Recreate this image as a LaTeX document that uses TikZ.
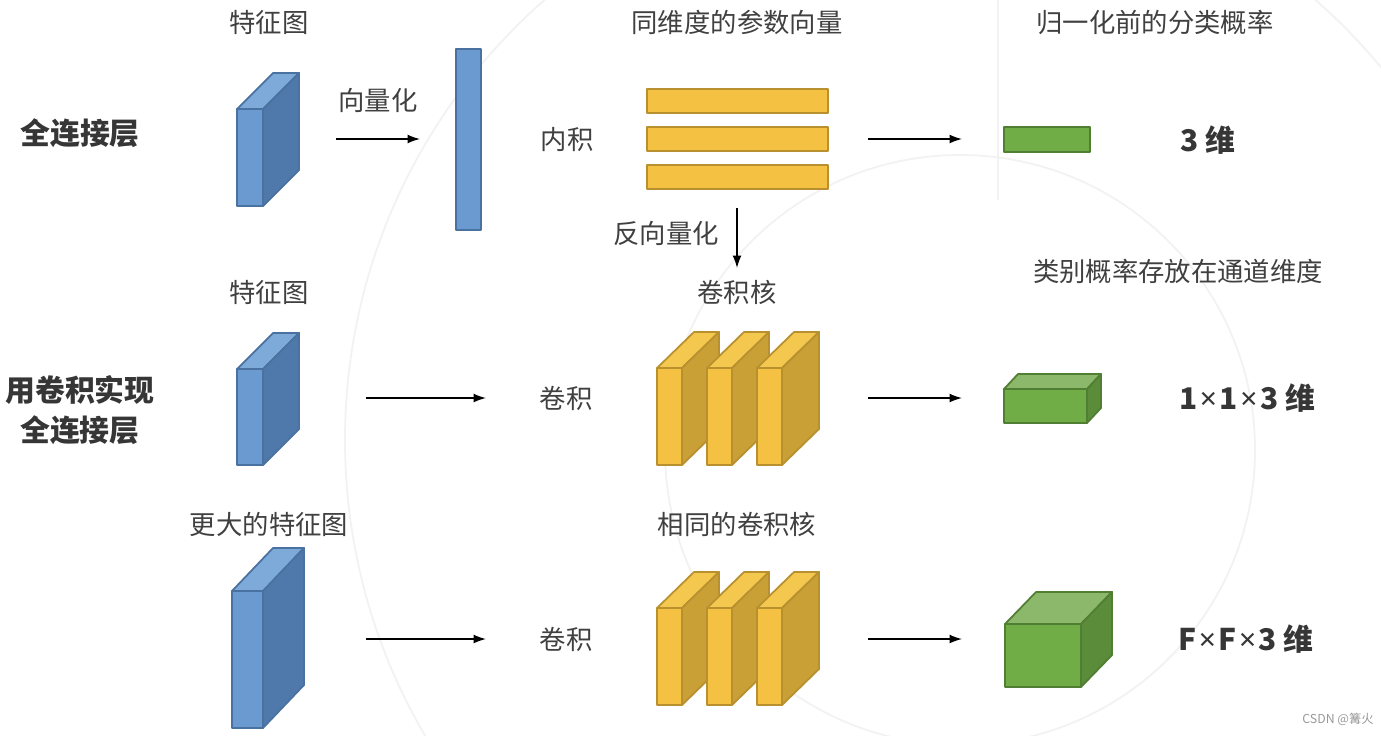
\documentclass[tikz,border=0pt]{standalone}
\usepackage{xcolor}
\usepackage{fontspec}
\setmainfont{Noto Sans CJK SC}
\newfontfamily\latin{Noto Sans}
\usepackage{tikz}
\usetikzlibrary{arrows.meta}

\definecolor{blueF}{HTML}{6A9AD0}
\definecolor{blueS}{HTML}{5079AB}
\definecolor{blueT}{HTML}{7EAADA}
\definecolor{blueD}{HTML}{4A72A0}
\definecolor{yelF}{HTML}{F5C142}
\definecolor{yelS}{HTML}{C9A035}
\definecolor{yelT}{HTML}{F4C84F}
\definecolor{yelD}{HTML}{B89030}
\definecolor{grnF}{HTML}{70AD47}
\definecolor{grnS}{HTML}{5A8C3A}
\definecolor{grnT}{HTML}{8CB86B}
\definecolor{grnD}{HTML}{507E32}
\definecolor{txt}{HTML}{404040}

% quader: x, y (front top left), w, h, dx, dy, colour prefix
\newcommand{\quader}[7]{%
  \filldraw[fill=#7T, draw=#7D] (#1,#2) -- ++(#5,-#6) -- ++(#3,0) -- ++(-#5,#6) -- cycle;
  \filldraw[fill=#7S, draw=#7D] (#1,#2) ++(#3,0) -- ++(#5,-#6) -- ++(0,#4) -- ++(-#5,#6) -- cycle;
  \filldraw[fill=#7F, draw=#7D] (#1,#2) rectangle ++(#3,#4);
}
\newcommand{\mal}{\kern1.5pt{\latin\bfseries ×}\kern1.5pt}

\begin{document}
\begin{tikzpicture}[x=0.02cm, y=-0.02cm, line join=round,
    lbl/.style={text=txt, font=\fontsize{15}{18}\selectfont},
    big/.style={text=txt!85!black, font=\fontsize{17}{21}\selectfont\bfseries, align=center},
    pfeil/.style={-{Latex[length=7pt, width=5pt]}, line width=0.8pt},
    shp/.style={line width=1pt}]
    \useasboundingbox[fill=white] (0,0) rectangle (1381,735);

    % Hintergrund
    \draw[gray!10, line width=1pt] (930,440) circle (585);
    \draw[gray!10, line width=1pt] (960,450) circle (295);
    \draw[gray!10, line width=1pt] (998,0) -- (998,200);

    % Titel
    \node[lbl] (t1) at (269,22) {特征图};
    \node[lbl] (t2) at (737,22) {同维度的参数向量};
    \node[lbl] (t3) at (1155,22) {归一化前的分类概率};

    % Zeile 1
    \node[big] (r1) at (80,133) {全连接层};
    \begin{scope}[shp]
        \quader{237}{109}{26}{97}{36}{36}{blue}
        \filldraw[fill=blueF, draw=blueD] (456,49) rectangle (481,230);
        \foreach \y in {89,127,165}
            {\filldraw[fill=yelF, draw=yelD] (647,\y) rectangle (828,\y+24);}
        \filldraw[fill=grnF, draw=grnD] (1004,127) rectangle (1090,152);
    \end{scope}
    \node[lbl] (vq) at (378,100) {向量化};
    \node[lbl] (nj) at (567,140) {内积};
    \node[big] (d1) at (1208,140) {3 维};
    \coordinate (a1) at (336,139);
    \coordinate (b1) at (420,139);
    \coordinate (c1) at (868,139);
    \coordinate (e1) at (962,139);
    \draw[pfeil] (a1) -- (b1);
    \draw[pfeil] (c1) -- (e1);

    % Rueckweg
    \coordinate (u1) at (737,208);
    \coordinate (u2) at (737,268);
    \draw[pfeil] (u1) -- (u2);
    \node[lbl] (fx) at (666,233) {反向量化};

    % Zeile 2
    \node[lbl] (t4) at (269,292) {特征图};
    \node[lbl] (t5) at (737,292) {卷积核};
    \node[lbl] (t6) at (1178,271) {类别概率存放在通道维度};
    \node[big] (r2) at (80,410) {用卷积实现\\[2pt]全连接层};
    \begin{scope}[shp]
        \quader{237}{369}{26}{96}{36}{36}{blue}
        \foreach \x in {657,707,757}
            {\quader{\x}{368}{25}{97}{37}{36}{yel}}
        \quader{1004}{389}{83}{34}{14}{15}{grn}
    \end{scope}
    \node[lbl] (jj1) at (566,398) {卷积};
    \node[big] (d2) at (1247,398) {1\mal1\mal3 维};
    \coordinate (a2) at (366,398);
    \coordinate (b2) at (486,398);
    \coordinate (c2) at (868,398);
    \coordinate (e2) at (962,398);
    \draw[pfeil] (a2) -- (b2);
    \draw[pfeil] (c2) -- (e2);

    % Zeile 3
    \node[lbl] (t7) at (269,524) {更大的特征图};
    \node[lbl] (t8) at (737,524) {相同的卷积核};
    \begin{scope}[shp]
        \quader{232}{591}{31}{137}{41}{43}{blue}
        \foreach \x in {657,707,757}
            {\quader{\x}{608}{25}{97}{37}{36}{yel}}
        \quader{1005}{624}{76}{63}{31}{32}{grn}
    \end{scope}
    \node[lbl] (jj2) at (566,639) {卷积};
    \node[big] (d3) at (1246,639) {F\mal F\mal3 维};
    \coordinate (a3) at (366,639);
    \coordinate (b3) at (486,639);
    \coordinate (c3) at (868,639);
    \coordinate (e3) at (962,639);
    \draw[pfeil] (a3) -- (b3);
    \draw[pfeil] (c3) -- (e3);

    \node[text=gray!80, font=\fontsize{7}{8}\selectfont] (wm) at (1338,719) {CSDN @篝火};
\end{tikzpicture}
\end{document}
